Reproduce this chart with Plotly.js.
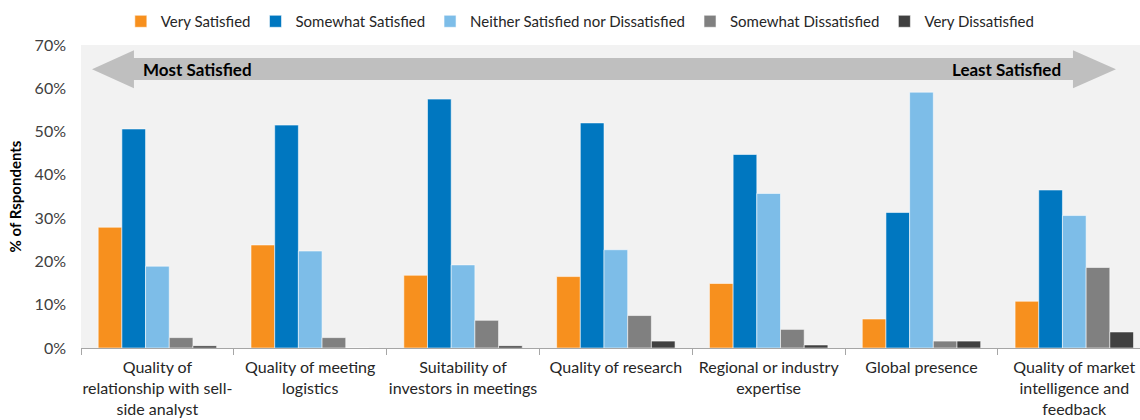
<!DOCTYPE html>
<html>
<head>
<meta charset="utf-8">
<script src="https://cdn.plot.ly/plotly-3.0.1.min.js"></script>
<style>html,body{margin:0;padding:0;background:#fff;}#chart{width:1140px;height:420px;}</style>
</head>
<body>
<div id="chart"></div>
<script>
var categories = [
  "Quality of<br>relationship with sell-<br>side analyst",
  "Quality of meeting<br>logistics",
  "Suitability of<br>investors in meetings",
  "Quality of research",
  "Regional or industry<br>expertise",
  "Global presence",
  "Quality of market<br>intelligence and<br>feedback"
];
var seriesNames = ["Very Satisfied", "Somewhat Satisfied", "Neither Satisfied nor Dissatisfied", "Somewhat Dissatisfied", "Very Dissatisfied"];
var verySatisfied = [27.9, 23.8, 16.8, 16.5, 14.9, 6.7, 10.8];
var somewhatSatisfied = [50.6, 51.5, 57.5, 52.0, 44.7, 31.3, 36.5];
var neither = [18.9, 22.4, 19.2, 22.7, 35.7, 59.1, 30.6];
var somewhatDissatisfied = [2.4, 2.4, 6.4, 7.5, 4.3, 1.6, 18.6];
var veryDissatisfied = [0.5, 0.0, 0.5, 1.6, 0.7, 1.6, 3.7];
var colors = ["#F7901E", "#0077C0", "#7DBDE8", "#808080", "#404040"];
var yTicks = [0, 10, 20, 30, 40, 50, 60, 70];
var yTickLabels = ["0%", "10%", "20%", "30%", "40%", "50%", "60%", "70%"];

var allSeries = [verySatisfied, somewhatSatisfied, neither, somewhatDissatisfied, veryDissatisfied];
var traces = allSeries.map(function (vals, i) {
  return {
    type: "bar",
    name: seriesNames[i],
    x: categories,
    y: vals,
    marker: { color: colors[i], line: { color: "rgba(255,255,255,0.55)", width: 1 } },
    hoverinfo: "skip"
  };
});

var font = "Lato, 'Open Sans', sans-serif";
var layout = {
  width: 1140,
  height: 420,
  margin: { l: 81, r: 0, t: 45, b: 72 },
  paper_bgcolor: "#ffffff",
  plot_bgcolor: "#F2F2F2",
  barmode: "group",
  bargap: 0.225,
  bargroupgap: 0,
  font: { family: font, size: 16, color: "#404040" },
  showlegend: true,
  legend: {
    orientation: "h",
    xref: "container", yref: "container",
    x: 0.106, y: 0.988, xanchor: "left", yanchor: "top",
    font: { family: font, size: 15, color: "#262626" },
    bgcolor: "rgba(0,0,0,0)",
    traceorder: "normal"
  },
  xaxis: {
    type: "category",
    range: [-0.5, 6.43],
    tickson: "boundaries",
    ticks: "outside",
    ticklen: 6,
    tickcolor: "#A6A6A6",
    tickangle: 0,
    ticklabelstandoff: 5,
    showline: true,
    linecolor: "#A6A6A6",
    linewidth: 1,
    showgrid: false,
    zeroline: false,
    tickfont: { family: font, size: 16, color: "#262626" },
    fixedrange: true
  },
  yaxis: {
    range: [0, 70],
    tickvals: yTicks,
    ticktext: yTickLabels,
    showgrid: false,
    zeroline: false,
    showline: false,
    ticks: "",
    ticklabelstandoff: 14,
    tickfont: { family: font, size: 16, color: "#404040" },
    title: { text: "% of Rspondents", font: { family: font, size: 15, color: "#000000", weight: "bold" }, standoff: 9 },
    fixedrange: true
  },
  shapes: [{
    type: "path",
    xref: "paper", yref: "y",
    path: "M0.0104,64.4 L0.05,68.8 L0.05,67.0 L0.9367,67.0 L0.9367,68.8 L0.9773,64.4 L0.9367,60.0 L0.9367,61.9 L0.05,61.9 L0.05,60.0 Z",
    fillcolor: "#BFBFBF",
    line: { width: 0 },
    layer: "above"
  }],
  annotations: [
    { xref: "paper", yref: "y", x: 0.0567, y: 64.4, xanchor: "left", yanchor: "middle", showarrow: false,
      text: "<b>Most Satisfied</b>", font: { family: font, size: 17, color: "#000000" } },
    { xref: "paper", yref: "y", x: 0.927, y: 64.4, xanchor: "right", yanchor: "middle", showarrow: false,
      text: "<b>Least Satisfied</b>", font: { family: font, size: 17, color: "#000000" } }
  ]
};

Plotly.newPlot("chart", traces, layout, { displayModeBar: false, staticPlot: true });
</script>
</body>
</html>
